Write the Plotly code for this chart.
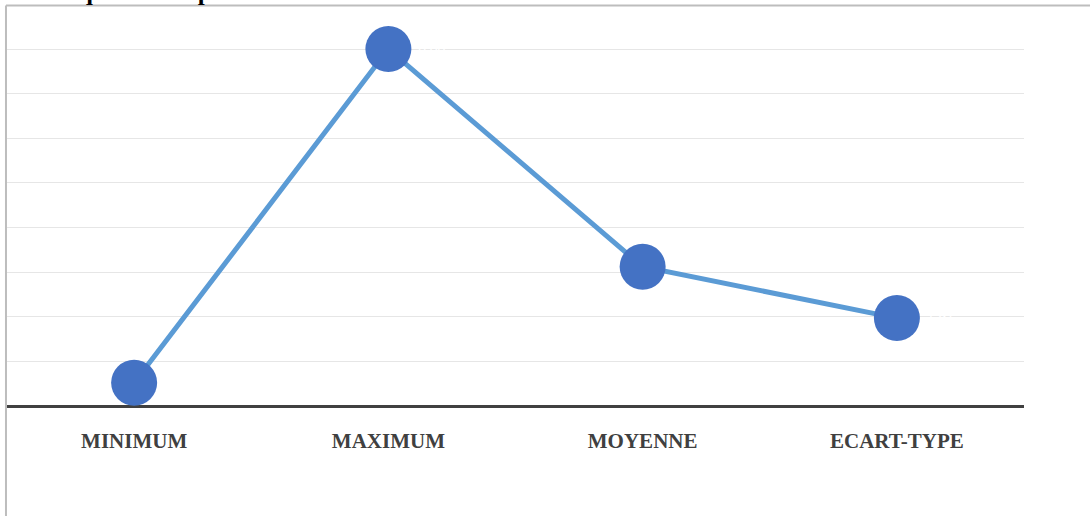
import plotly.graph_objects as go

# Descriptive statistics shown on the chart
categories = ["MINIMUM", "MAXIMUM", "MOYENNE", "ECART-TYPE"]
values = [0.52, 8.0, 3.12, 1.97]
value_labels = ["0,52", "8,00", "3,12", "1,97"]
title_text = "Statistiques descriptives des notes"

fig = go.Figure()

fig.add_trace(go.Scatter(
    x=categories,
    y=values,
    mode="lines+markers+text",
    line=dict(color="#5B9BD5", width=5),
    marker=dict(color="#4472C4", size=46, line=dict(width=0)),
    text=value_labels,
    textposition="middle right",
    textfont=dict(family="Liberation Sans", size=14, color="#FFFFFF"),
    cliponaxis=False,
    showlegend=False,
))

fig.update_layout(
    width=1090,
    height=516,
    margin=dict(l=7, r=66, t=37, b=110),
    paper_bgcolor="white",
    plot_bgcolor="white",
    xaxis=dict(
        type="category",
        range=[-0.5, 3.5],
        showgrid=False,
        showline=False,
        zeroline=False,
        ticks="",
        tickfont=dict(family="Liberation Serif", size=21, color="#404040", weight="bold"),
        ticklabelstandoff=20,
    ),
    yaxis=dict(
        range=[0, 8.27],
        dtick=1,
        showgrid=True,
        gridcolor="#E6E6E6",
        gridwidth=1,
        zeroline=True,
        zerolinecolor="#404040",
        zerolinewidth=3,
        showticklabels=False,
        showline=False,
        ticks="",
    ),
    annotations=[
        dict(
            text=title_text,
            xref="paper", yref="paper",
            x=-0.005, y=1.0813,
            xanchor="left", yanchor="bottom",
            showarrow=False,
            font=dict(family="Liberation Serif", size=25, color="#000000", weight="bold"),
        )
    ],
    shapes=[
        # outer frame edges (left and top)
        dict(type="line", xref="paper", yref="paper",
             x0=-0.001, x1=-0.001, y0=-0.32, y1=1.0854,
             line=dict(color="#BDBDBD", width=2)),
        dict(type="line", xref="paper", yref="paper",
             x0=-0.001, x1=1.07, y0=1.0854, y1=1.0854,
             line=dict(color="#BDBDBD", width=2)),
    ],
)

fig.write_html("out.html")
